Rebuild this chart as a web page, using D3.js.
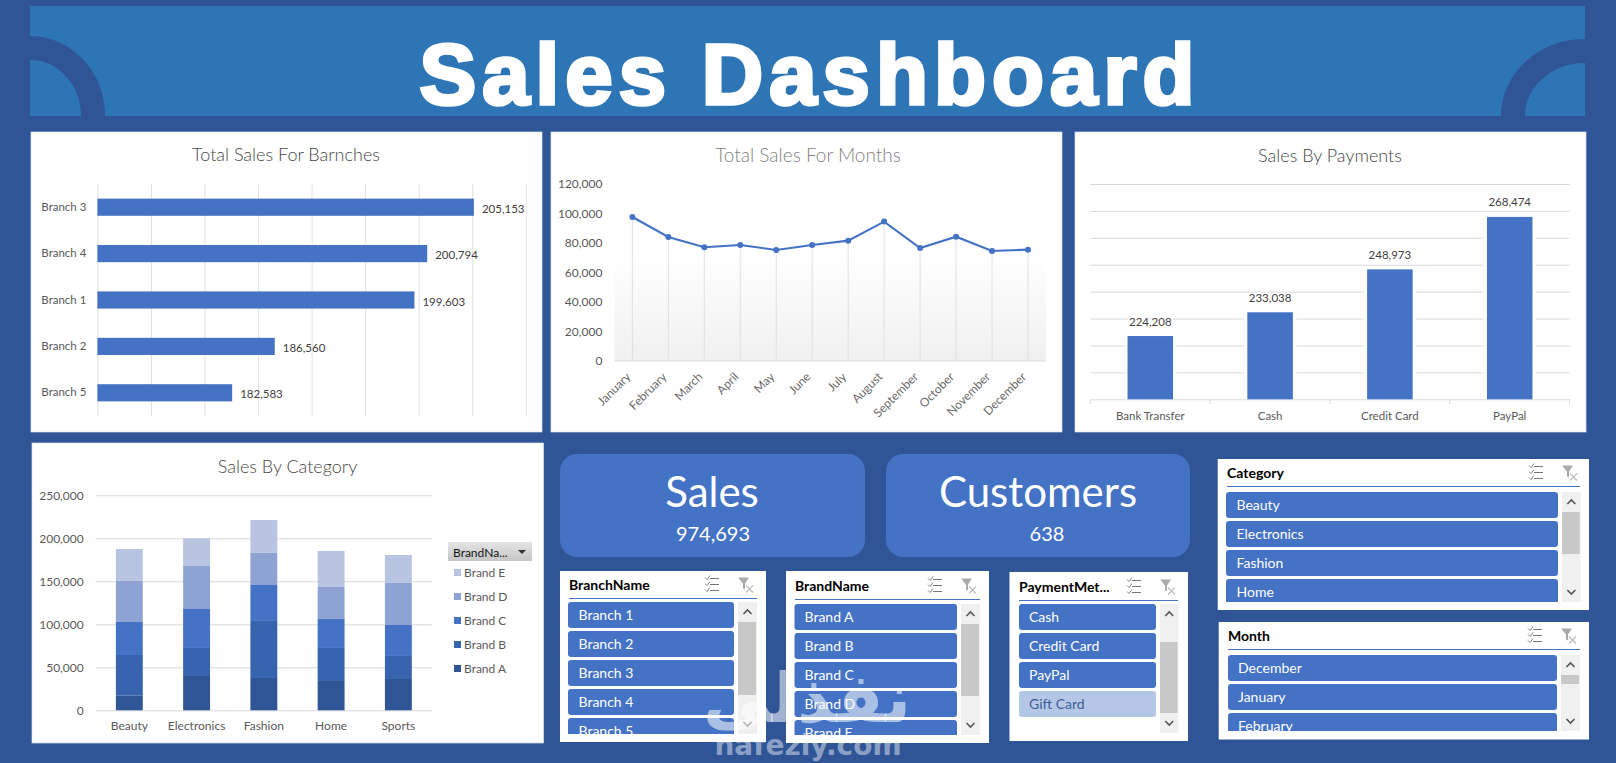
<!DOCTYPE html>
<html>
<head>
<meta charset="utf-8">
<script src="https://cdn.jsdelivr.net/npm/d3@7"></script>
<style>
  html, body { margin: 0; padding: 0; background: #2f5597; overflow: hidden; }
  svg { display: block; }
  text { font-family: Lato, "Open Sans", sans-serif; }
</style>
</head>
<body>
<div id="chart"></div>
<script>
// data
var branchNames = ["Branch 3", "Branch 4", "Branch 1", "Branch 2", "Branch 5"];
var branchSales = [205153, 200794, 199603, 186560, 182583];

var months = ["January", "February", "March", "April", "May", "June", "July", "August", "September", "October", "November", "December"];
var monthSales = [97600, 84100, 77100, 78600, 75300, 78600, 81600, 94500, 76600, 84300, 74600, 75500];

var payments = ["Bank Transfer", "Cash", "Credit Card", "PayPal"];
var paymentSales = [224208, 233038, 248973, 268474];

var categories = ["Beauty", "Electronics", "Fashion", "Home", "Sports"];
var brands = ["Brand A", "Brand B", "Brand C", "Brand D", "Brand E"];
var brandA = [17000, 39900, 37600, 34100, 36400];
var brandB = [47300, 32600, 66300, 38400, 26800];
var brandC = [38400, 45300, 41800, 33700, 36000];
var brandD = [47700, 50000, 37300, 37200, 48900];
var brandE = [37200, 32200, 38300, 41900, 32500];
var brandColors = ["#2f5597", "#3764ae", "#4472c4", "#8fa2d4", "#b9c4e2"];

var branchSlicer = ["Branch 1", "Branch 2", "Branch 3", "Branch 4", "Branch 5"];
var brandSlicer = ["Brand A", "Brand B", "Brand C", "Brand D", "Brand E"];
var paymentSlicer = ["Cash", "Credit Card", "PayPal", "Gift Card"];
var categorySlicer = ["Beauty", "Electronics", "Fashion", "Home"];
var monthSlicer = ["December", "January", "February"];

var TEXT = "#595959";
var GRID = "#d9d9d9";
var BLUE = "#4472c4";
var fmt = d3.format(",");

var svg = d3.select("#chart").append("svg")
  .attr("width", 1616)
  .attr("height", 763);

var defs = svg.append("defs");

var plotGrad = defs.append("linearGradient")
  .attr("id", "plotShade")
  .attr("x1", 0).attr("x2", 0).attr("y1", 0).attr("y2", 1);
plotGrad.append("stop").attr("offset", "40%").attr("stop-color", "#ffffff");
plotGrad.append("stop").attr("offset", "100%").attr("stop-color", "#f0f0f0");

var btnGrad = defs.append("linearGradient")
  .attr("id", "btnShade")
  .attr("x1", 0).attr("x2", 0).attr("y1", 0).attr("y2", 1);
btnGrad.append("stop").attr("offset", "0%").attr("stop-color", "#e4e4e4");
btnGrad.append("stop").attr("offset", "100%").attr("stop-color", "#c6c6c6");

// ---- header ----
defs.append("clipPath").attr("id", "headClip")
  .append("rect").attr("x", 30).attr("y", 6).attr("width", 1555).attr("height", 110);

svg.append("rect")
  .attr("x", 30).attr("y", 6)
  .attr("width", 1555).attr("height", 110)
  .attr("fill", "#2e75b6");

var arcs = svg.append("g").attr("clip-path", "url(#headClip)");
arcs.append("ellipse")
  .attr("cx", 30).attr("cy", 116)
  .attr("rx", 63).attr("ry", 68)
  .attr("fill", "none").attr("stroke", "#2f5597").attr("stroke-width", 24);
arcs.append("ellipse")
  .attr("cx", 1585).attr("cy", 116)
  .attr("rx", 72).attr("ry", 65)
  .attr("fill", "none").attr("stroke", "#2f5597").attr("stroke-width", 24);

svg.append("text")
  .attr("x", 810).attr("y", 104)
  .attr("text-anchor", "middle")
  .style("font-family", "'Liberation Sans', Arial, sans-serif")
  .style("font-weight", 700)
  .style("font-size", "85px")
  .style("letter-spacing", "6.1px")
  .attr("fill", "#fff")
  .attr("stroke", "#fff")
  .attr("stroke-width", 3.6)
  .text("Sales Dashboard");

// ---- panels ----
function panel(x, y, w, h, title, cx, cy, color, size) {
  svg.append("rect")
    .attr("x", x).attr("y", y)
    .attr("width", w).attr("height", h)
    .attr("fill", "#fff")
    .attr("stroke", "#dbe3f3")
    .attr("stroke-width", 0.7);
  svg.append("text")
    .attr("x", cx).attr("y", cy)
    .attr("text-anchor", "middle")
    .attr("dominant-baseline", "central")
    .attr("fill", color || "#484848")
    .style("font-size", (size || 18) + "px")
    .style("font-weight", 300)
    .text(title);
}

function cleanAxis(g, size) {
  g.select(".domain").remove();
  g.selectAll("text").attr("fill", TEXT).style("font-size", (size || 11.5) + "px");
}

// ---- Total Sales For Branches ----
panel(31, 132, 511, 300, "Total Sales For Barnches", 286, 154);

var x1 = d3.scaleLinear().domain([170000, 210000]).range([97.4, 525.8]);
var y1 = d3.scaleBand().domain(branchNames).range([184, 416]).paddingInner(0.63).paddingOuter(0.315);

svg.append("g")
  .attr("transform", "translate(0,416)")
  .call(d3.axisBottom(x1).tickValues(d3.range(170000, 210001, 5000)).tickSize(-232).tickFormat(""))
  .call(cleanAxis)
  .selectAll("line").attr("stroke", GRID).attr("stroke-width", 0.8);

svg.append("g")
  .attr("transform", "translate(97.4,0)")
  .call(d3.axisLeft(y1).tickSize(0).tickPadding(11))
  .call(cleanAxis);

svg.append("g").selectAll("rect")
  .data(branchSales)
  .join("rect")
  .attr("x", x1.range()[0])
  .attr("y", function (d, i) { return y1(branchNames[i]); })
  .attr("width", function (d) { return x1(d) - x1.range()[0]; })
  .attr("height", y1.bandwidth())
  .attr("fill", BLUE);

svg.append("g").selectAll("text")
  .data(branchSales)
  .join("text")
  .attr("x", function (d) { return x1(d) + 8; })
  .attr("y", function (d, i) { return y1(branchNames[i]) + y1.bandwidth() / 2 + 1; })
  .attr("dominant-baseline", "central")
  .attr("fill", "#404040")
  .style("font-size", "11.5px")
  .text(function (d) { return fmt(d); });

// ---- Total Sales For Months ----
panel(551, 132, 511, 300, "Total Sales For Months", 808, 154, "#7f7f7f", 19);

var x2 = d3.scaleBand().domain(months).range([614.4, 1046]);
var y2 = d3.scaleLinear().domain([0, 120000]).range([361, 184]);
var mx = function (m) { return x2(m) + x2.bandwidth() / 2; };

svg.append("rect")
  .attr("x", 614.4).attr("y", y2(120000))
  .attr("width", 431.6).attr("height", y2(0) - y2(120000))
  .attr("fill", "url(#plotShade)");

svg.append("g").selectAll("line")
  .data(monthSales)
  .join("line")
  .attr("x1", function (d, i) { return mx(months[i]); })
  .attr("x2", function (d, i) { return mx(months[i]); })
  .attr("y1", function (d) { return y2(d); })
  .attr("y2", y2(0))
  .attr("stroke", GRID)
  .attr("stroke-width", 0.8);

svg.append("line")
  .attr("x1", 614.4).attr("x2", 1046)
  .attr("y1", y2(0)).attr("y2", y2(0))
  .attr("stroke", GRID);

svg.append("g")
  .attr("transform", "translate(614.4,0)")
  .call(d3.axisLeft(y2).tickValues(d3.range(0, 120001, 20000)).tickSize(0).tickPadding(12).tickFormat(fmt))
  .call(cleanAxis, 12);

svg.append("g")
  .attr("transform", "translate(0,361)")
  .call(d3.axisBottom(x2).tickSize(0).tickPadding(8))
  .call(cleanAxis, 12)
  .selectAll("text")
  .attr("text-anchor", "end")
  .attr("dx", "-12.4px")
  .attr("dy", "3px")
  .attr("fill", "#6b6b6b")
  .attr("transform", "rotate(-45)");

var monthLine = d3.line()
  .x(function (d, i) { return mx(months[i]); })
  .y(function (d) { return y2(d); });

svg.append("path")
  .datum(monthSales)
  .attr("d", monthLine)
  .attr("fill", "none")
  .attr("stroke", BLUE)
  .attr("stroke-width", 2.1);

svg.append("g").selectAll("circle")
  .data(monthSales)
  .join("circle")
  .attr("cx", function (d, i) { return mx(months[i]); })
  .attr("cy", function (d) { return y2(d); })
  .attr("r", 3)
  .attr("fill", BLUE);

// ---- Sales By Payments ----
panel(1075, 132, 511, 300, "Sales By Payments", 1330, 155);

var x3 = d3.scaleBand().domain(payments).range([1090.4, 1569.6]).paddingInner(0.62).paddingOuter(0.31);
// axis does not start on a round number in the picture
var y3 = d3.scaleLinear().domain([200700, 280700]).range([399.3, 184]);

svg.append("g")
  .attr("transform", "translate(1090.4,0)")
  .call(d3.axisLeft(y3).tickValues(d3.range(200700, 280701, 10000)).tickSize(-479.2).tickFormat(""))
  .call(cleanAxis)
  .selectAll("line").attr("stroke", GRID).attr("stroke-width", 1);

// little ticks between the categories
svg.append("g").selectAll("line")
  .data(d3.range(payments.length + 1))
  .join("line")
  .attr("x1", function (i) { return 1090.4 + i * x3.step(); })
  .attr("x2", function (i) { return 1090.4 + i * x3.step(); })
  .attr("y1", 399.3).attr("y2", 404)
  .attr("stroke", GRID);

svg.append("g").selectAll("rect")
  .data(paymentSales)
  .join("rect")
  .attr("x", function (d, i) { return x3(payments[i]); })
  .attr("y", function (d) { return y3(d); })
  .attr("width", x3.bandwidth())
  .attr("height", function (d) { return y3(200700) - y3(d); })
  .attr("fill", BLUE);

// white gap either side of a bar
[-2, 2].forEach(function (side) {
  svg.append("g").selectAll("line")
    .data(paymentSales)
    .join("line")
    .attr("x1", function (d, i) { return x3(payments[i]) + (side > 0 ? x3.bandwidth() : 0) + side; })
    .attr("x2", function (d, i) { return x3(payments[i]) + (side > 0 ? x3.bandwidth() : 0) + side; })
    .attr("y1", function (d) { return y3(d); })
    .attr("y2", y3(200700) - 1)
    .attr("stroke", "#fff")
    .attr("stroke-width", 3);
});

svg.append("g").selectAll("text")
  .data(paymentSales)
  .join("text")
  .attr("x", function (d, i) { return x3(payments[i]) + x3.bandwidth() / 2; })
  .attr("y", function (d) { return y3(d) - 15; })
  .attr("text-anchor", "middle")
  .attr("dominant-baseline", "central")
  .attr("fill", "#404040")
  .style("font-size", "11.5px")
  .style("paint-order", "stroke")
  .attr("stroke", "#fff")
  .attr("stroke-width", 3)
  .text(function (d) { return fmt(d); });

svg.append("g")
  .attr("transform", "translate(0,399.3)")
  .call(d3.axisBottom(x3).tickSize(0).tickPadding(13))
  .call(cleanAxis);

// ---- Sales By Category ----
panel(32, 443, 511.5, 300, "Sales By Category", 287.5, 466);

var x4 = d3.scaleBand().domain(categories).range([95.7, 432]).paddingInner(0.6).paddingOuter(0.3);
var y4 = d3.scaleLinear().domain([0, 250000]).range([710.3, 495.3]);

svg.append("g")
  .attr("transform", "translate(95.7,0)")
  .call(d3.axisLeft(y4).tickValues(d3.range(0, 250001, 50000)).tickSize(-336.3).tickPadding(12).tickFormat(fmt))
  .call(cleanAxis, 12)
  .selectAll("line").attr("stroke", GRID);

var brandRows = categories.map(function (c, i) {
  return { cat: c, "Brand A": brandA[i], "Brand B": brandB[i], "Brand C": brandC[i], "Brand D": brandD[i], "Brand E": brandE[i] };
});

var stacked = d3.stack().keys(brands)(brandRows);

svg.append("g").selectAll("g")
  .data(stacked)
  .join("g")
  .attr("fill", function (d, i) { return brandColors[i]; })
  .selectAll("rect")
  .data(function (d) { return d; })
  .join("rect")
  .attr("x", function (d) { return x4(d.data.cat); })
  .attr("y", function (d) { return y4(d[1]); })
  .attr("width", x4.bandwidth())
  .attr("height", function (d) { return y4(d[0]) - y4(d[1]); });

svg.append("g")
  .attr("transform", "translate(0,710.3)")
  .call(d3.axisBottom(x4).tickSize(0).tickPadding(11))
  .call(cleanAxis, 12);

// legend button
svg.append("rect")
  .attr("x", 448).attr("y", 542)
  .attr("width", 84).attr("height", 19)
  .attr("fill", "url(#btnShade)");
svg.append("text")
  .attr("x", 453).attr("y", 552)
  .attr("dominant-baseline", "central")
  .attr("fill", "#111")
  .style("font-size", "12px")
  .text("BrandNa...");
svg.append("path")
  .attr("d", "M518,550 L526,550 L522,554 Z")
  .attr("fill", "#333");

var legendY = d3.scalePoint().domain(brands.slice().reverse()).range([572.5, 668.5]);
var legend = svg.append("g").selectAll("g")
  .data(brands)
  .join("g")
  .attr("transform", function (d) { return "translate(454," + legendY(d) + ")"; });
legend.append("rect")
  .attr("y", -3.5).attr("width", 7).attr("height", 7)
  .attr("fill", function (d, i) { return brandColors[i]; });
legend.append("text")
  .attr("x", 10)
  .attr("dominant-baseline", "central")
  .attr("fill", TEXT)
  .style("font-size", "12px")
  .text(function (d) { return d; });

// ---- KPI cards ----
function kpi(x, w, label, labelX, value, valueX) {
  svg.append("rect")
    .attr("x", x).attr("y", 454)
    .attr("width", w).attr("height", 103)
    .attr("rx", 17)
    .attr("fill", BLUE);
  svg.append("text")
    .attr("x", labelX).attr("y", 507)
    .attr("text-anchor", "middle")
    .attr("fill", "#fff")
    .style("font-size", "42px")
    .text(label);
  svg.append("text")
    .attr("x", valueX).attr("y", 541)
    .attr("text-anchor", "middle")
    .attr("fill", "#fff")
    .style("font-size", "20px")
    .text(value);
}
kpi(560, 305, "Sales", 712, "974,693", 713);
kpi(886, 304, "Customers", 1038, "638", 1047);

// ---- slicers ----
function slicer(cfg, items, title, dimmed) {
  var g = svg.append("g");
  g.append("rect")
    .attr("x", cfg.x).attr("y", cfg.y)
    .attr("width", cfg.w).attr("height", cfg.h)
    .attr("fill", "#fff");
  g.append("text")
    .attr("x", cfg.titleX).attr("y", cfg.lineY - 9)
    .attr("fill", "#000")
    .style("font-size", "14px")
    .style("font-weight", 700)
    .text(title);
  g.append("line")
    .attr("x1", cfg.titleX).attr("x2", cfg.lineEnd)
    .attr("y1", cfg.lineY).attr("y2", cfg.lineY)
    .attr("stroke", BLUE);

  // multi select icon
  var ms = g.append("g")
    .attr("transform", "translate(" + cfg.iconA + "," + (cfg.lineY - 14) + ")")
    .attr("fill", "none").attr("stroke", "#777");
  [-6, 0, 6].forEach(function (o) {
    ms.append("line").attr("x1", -2).attr("x2", 7).attr("y1", o).attr("y2", o);
    ms.append("path").attr("d", "M-7," + (o - 1) + " l2,2 l3,-4").attr("stroke-width", 0.9);
  });

  // clear filter icon
  var cf = g.append("g").attr("transform", "translate(" + cfg.iconB + "," + (cfg.lineY - 14) + ")");
  cf.append("path").attr("d", "M-7,-7 L4,-7 L0,-1 L0,5 L-2,4 L-2,-1 Z").attr("fill", "#aaa");
  cf.append("path").attr("d", "M1,1 L8,8 M8,1 L1,8").attr("stroke", "#bbb").attr("stroke-width", 1.1);

  // buttons, the last one is cut off by the list height
  var id = "clip" + title.replace(/\W/g, "");
  defs.append("clipPath").attr("id", id)
    .append("rect")
    .attr("x", cfg.itemX - 1).attr("y", cfg.itemY)
    .attr("width", cfg.itemW + 2).attr("height", cfg.listH);

  var rows = g.append("g").attr("clip-path", "url(#" + id + ")")
    .selectAll("g")
    .data(items)
    .join("g")
    .attr("transform", function (d, i) { return "translate(" + cfg.itemX + "," + (cfg.itemY + i * 29) + ")"; });
  rows.append("rect")
    .attr("width", cfg.itemW).attr("height", 26)
    .attr("rx", 3)
    .attr("fill", function (d) { return d === dimmed ? "#b4c7e7" : BLUE; });
  rows.append("text")
    .attr("x", cfg.textDx).attr("y", 12)
    .attr("dominant-baseline", "central")
    .attr("fill", function (d) { return d === dimmed ? "#3f5f96" : "#fff"; })
    .style("font-size", "14px")
    .text(function (d) { return d; });

  // scroll bar
  g.append("rect")
    .attr("x", cfg.barX).attr("y", cfg.itemY)
    .attr("width", cfg.barW).attr("height", cfg.listH)
    .attr("fill", "#f0f0f0");
  g.append("rect")
    .attr("x", cfg.barX).attr("y", cfg.thumbY)
    .attr("width", cfg.barW - 1).attr("height", cfg.thumbH)
    .attr("fill", "#c8c8c8");
  var cx = cfg.barX + cfg.barW / 2;
  g.append("path")
    .attr("d", "M" + (cx - 4) + "," + (cfg.itemY + 12) + " l4,-4 l4,4")
    .attr("fill", "none").attr("stroke", "#555").attr("stroke-width", 1.6);
  g.append("path")
    .attr("d", "M" + (cx - 4) + "," + (cfg.itemY + cfg.listH - 12) + " l4,4 l4,-4")
    .attr("fill", "none").attr("stroke", "#555").attr("stroke-width", 1.6);
}

slicer({ x: 560, y: 571, w: 206, h: 171, titleX: 569, lineEnd: 757, lineY: 598.5, iconA: 712, iconB: 745,
         itemX: 568, itemY: 602, itemW: 166, listH: 132, textDx: 10.5,
         barX: 738, barW: 19, thumbY: 622, thumbH: 73 }, branchSlicer, "BranchName");
slicer({ x: 786, y: 571, w: 203, h: 172, titleX: 795, lineEnd: 980, lineY: 599.5, iconA: 935, iconB: 968,
         itemX: 794.5, itemY: 604, itemW: 162.5, listH: 131, textDx: 10,
         barX: 961, barW: 19, thumbY: 624, thumbH: 72 }, brandSlicer, "BrandName");
slicer({ x: 1009.5, y: 572, w: 178.5, h: 169, titleX: 1019, lineEnd: 1178, lineY: 600.5, iconA: 1134, iconB: 1167,
         itemX: 1019, itemY: 604, itemW: 137, listH: 129, textDx: 10,
         barX: 1160, barW: 18.5, thumbY: 642, thumbH: 71 }, paymentSlicer, "PaymentMet...", "Gift Card");
slicer({ x: 1217.7, y: 459, w: 371.3, h: 151, titleX: 1227, lineEnd: 1580, lineY: 486.5, iconA: 1536, iconB: 1569,
         itemX: 1226, itemY: 492, itemW: 332, listH: 110, textDx: 10.5,
         barX: 1562, barW: 18.7, thumbY: 512, thumbH: 42 }, categorySlicer, "Category");
slicer({ x: 1218.7, y: 622, w: 370.3, h: 117.5, titleX: 1228, lineEnd: 1580, lineY: 649.5, iconA: 1535, iconB: 1568,
         itemX: 1228, itemY: 655, itemW: 329, listH: 76, textDx: 10,
         barX: 1561, barW: 19, thumbY: 675, thumbH: 9 }, monthSlicer, "Month");

// ---- watermark ----
svg.append("text")
  .attr("x", 807).attr("y", 722)
  .attr("text-anchor", "middle")
  .attr("direction", "rtl")
  .attr("fill", "#fff")
  .attr("fill-opacity", 0.55)
  .style("font-family", "'DejaVu Sans', sans-serif")
  .style("font-weight", 700)
  .style("font-size", "68px")
  .text("نفذلي");
svg.append("text")
  .attr("x", 808).attr("y", 755)
  .attr("text-anchor", "middle")
  .attr("fill", "#fff")
  .attr("fill-opacity", 0.45)
  .style("font-family", "'DejaVu Sans', sans-serif")
  .style("font-weight", 700)
  .style("font-size", "28px")
  .text("nafezly.com");
</script>
</body>
</html>
